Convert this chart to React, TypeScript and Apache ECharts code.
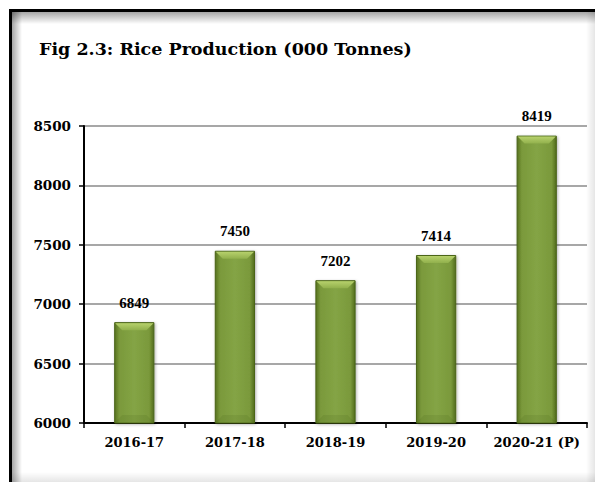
import React, { useEffect, useRef } from "react";
import * as echarts from "echarts";

const categories = ["2016-17", "2017-18", "2018-19", "2019-20", "2020-21 (P)"];
const production = [6849, 7450, 7202, 7414, 8419];
const yTicks = { min: 6000, max: 8500, interval: 500 };
const titleText = "Fig 2.3: Rice Production (000 Tonnes)";

export default function App() {
  const ref = useRef<HTMLDivElement>(null);
  useEffect(() => {
    if (!ref.current) return;
    const chart = echarts.init(ref.current, null, { renderer: "svg" });
    const serif = "DejaVu Serif";
    const barFill = new echarts.graphic.LinearGradient(0, 0, 1, 0, [
      { offset: 0, color: "#58731f" },
      { offset: 0.12, color: "#7a993b" },
      { offset: 0.5, color: "#84a445" },
      { offset: 0.88, color: "#7a993b" },
      { offset: 1, color: "#526c1d" },
    ]);
    chart.setOption({
      animation: false,
      backgroundColor: "#ffffff",
      title: {
        text: titleText,
        left: 34,
        top: 35,
        textStyle: { fontFamily: serif, fontWeight: "bold", fontSize: 17.5, color: "#000" },
      },
      grid: { left: 84, right: 8, top: 126, bottom: 59 },
      xAxis: {
        type: "category",
        data: categories,
        axisLine: { show: true, lineStyle: { color: "#000", width: 2 } },
        axisTick: { show: true, alignWithLabel: false, length: 5, lineStyle: { color: "#000", width: 1.5 } },
        axisLabel: { interval: 0, fontFamily: serif, fontWeight: "bold", fontSize: 13, color: "#000", margin: 13 },
        splitLine: { show: false },
      },
      yAxis: {
        type: "value",
        min: yTicks.min,
        max: yTicks.max,
        interval: yTicks.interval,
        axisLine: { show: true, lineStyle: { color: "#000", width: 2 } },
        axisTick: { show: true, inside: false, length: 5, lineStyle: { color: "#000", width: 1.5 } },
        axisLabel: {
          fontFamily: serif,
          fontWeight: "bold",
          fontSize: 13.5,
          color: "#000",
          margin: 13,
          formatter: (v: number) => String(v),
        },
        splitLine: { show: true, lineStyle: { color: "#8a8a8a", width: 1.5 } },
      },
      series: [
        {
          type: "bar",
          data: production,
          barWidth: "40%",
          itemStyle: {
            color: barFill,
            borderColor: "#4a6419",
            borderWidth: 1,
            shadowColor: "rgba(0,0,0,0.3)",
            shadowBlur: 3,
            shadowOffsetX: 1,
            shadowOffsetY: 1,
          },
          label: {
            show: true,
            position: "top",
            distance: 12,
            fontFamily: "Liberation Serif",
            fontWeight: "bold",
            fontSize: 15,
            color: "#000",
          },
          z: 2,
        },
        {
          type: "custom",
          data: production.map((v, i) => [i, v]),
          z: 3,
          silent: true,
          renderItem: (params: any, api: any) => {
            const idx = api.value(0);
            const val = api.value(1);
            const top = api.coord([idx, val]);
            const base = api.coord([idx, yTicks.min]);
            const band = api.size([1, 0])[0];
            const w = band * 0.4;
            const x0 = top[0] - w / 2;
            const x1 = top[0] + w / 2;
            const y0 = top[1];
            const y1 = base[1];
            const b = 8;
            return {
              type: "group",
              children: [
                {
                  type: "polygon",
                  shape: { points: [[x0 + 1, y0 + 1], [x1 - 1, y0 + 1], [x1 - b, y0 + b], [x0 + b, y0 + b]] },
                  style: {
                    fill: new echarts.graphic.LinearGradient(0, 0, 0, 1, [
                      { offset: 0, color: "#b7d16c" },
                      { offset: 1, color: "#91b04c" },
                    ]),
                  },
                },
                {
                  type: "polygon",
                  shape: { points: [[x0 + 1, y1 - 1], [x1 - 1, y1 - 1], [x1 - b, y1 - b], [x0 + b, y1 - b]] },
                  style: { fill: "rgba(60,80,20,0.12)" },
                },
              ],
            };
          },
        },
      ],
      graphic: [
        { type: "rect", shape: { x: 12, y: 12, width: 583, height: 12 }, style: { fill: new echarts.graphic.LinearGradient(0, 0, 0, 1, [{ offset: 0, color: "rgba(0,0,0,0.35)" }, { offset: 1, color: "rgba(0,0,0,0)" }]) }, silent: true },
        { type: "rect", shape: { x: 12, y: 12, width: 10, height: 470 }, style: { fill: new echarts.graphic.LinearGradient(0, 0, 1, 0, [{ offset: 0, color: "rgba(0,0,0,0.35)" }, { offset: 1, color: "rgba(0,0,0,0)" }]) }, silent: true },
        { type: "rect", shape: { x: 586, y: 12, width: 9, height: 470 }, style: { fill: new echarts.graphic.LinearGradient(0, 0, 1, 0, [{ offset: 0, color: "rgba(0,0,0,0)" }, { offset: 1, color: "rgba(0,0,0,0.1)" }]) }, silent: true },
        { type: "rect", shape: { x: 12, y: 472, width: 583, height: 10 }, style: { fill: new echarts.graphic.LinearGradient(0, 0, 0, 1, [{ offset: 0, color: "rgba(0,0,0,0)" }, { offset: 1, color: "rgba(0,0,0,0.1)" }]) }, silent: true },
        { type: "rect", shape: { x: 9, y: 9, width: 586, height: 3 }, style: { fill: "#000" }, silent: true },
        { type: "rect", shape: { x: 9, y: 9, width: 3, height: 473 }, style: { fill: "#000" }, silent: true },
      ],
    });
    return () => chart.dispose();
  }, []);
  return (
    <div
      ref={ref}
      style={{ position: "fixed", left: 0, top: 0, width: 595, height: 482 }}
    />
  );
}
